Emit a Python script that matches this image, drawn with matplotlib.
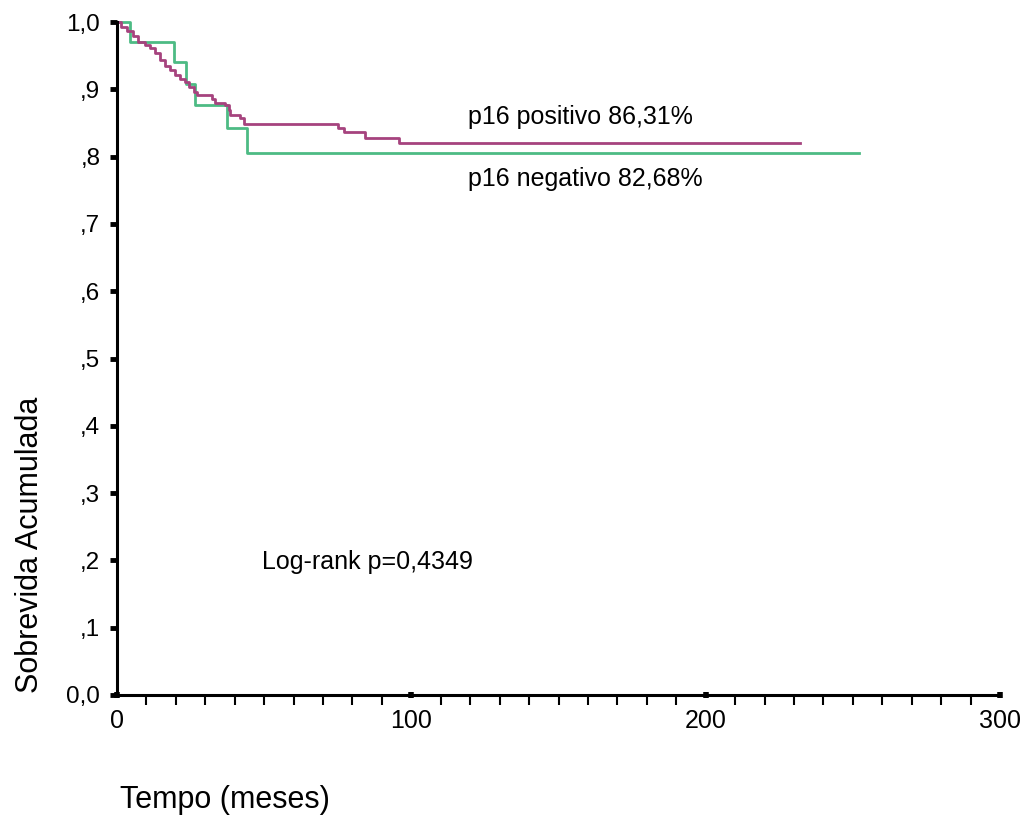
import matplotlib
matplotlib.use("Agg")
import matplotlib.pyplot as plt
import numpy as np

plt.rcParams['font.family'] = ['Liberation Sans', 'DejaVu Sans']

# Kaplan-Meier steps
pos_t = [0, 1.5, 3.5, 5.5, 7.2, 9.5, 11.2, 12.9, 14.6, 16.3, 18.0, 19.7, 21.4, 23.1,
         24.3, 26.0, 27.1, 32.2, 33.3, 36.7, 37.9, 38.4, 41.8, 43.0, 75.2, 77.0,
         84.4, 95.7, 232.2]
pos_s = [1.0, 0.993, 0.986, 0.979, 0.971, 0.966, 0.961, 0.954, 0.944, 0.934, 0.929,
         0.921, 0.916, 0.911, 0.904, 0.896, 0.891, 0.885, 0.880, 0.877, 0.869, 0.862,
         0.857, 0.849, 0.842, 0.836, 0.828, 0.820, 0.820]

neg_t = [0, 4.4, 19.4, 23.5, 26.5, 37.3, 44.1, 252.0]
neg_s = [1.0, 0.971, 0.940, 0.908, 0.877, 0.842, 0.806, 0.806]

yticks = np.round(np.arange(0, 1.01, 0.1), 1)
ylabels = ['0,0', ',1', ',2', ',3', ',4', ',5', ',6', ',7', ',8', ',9', '1,0']
xticks = [0, 100, 200, 300]

fig = plt.figure(figsize=(10.24, 8.16), dpi=100)
ax = fig.add_axes([117/1024, 121/816, 883/1024, 673/816])

ax.step(neg_t, neg_s, where='post', color='#4dbb84', lw=2.0, clip_on=False)
ax.step(pos_t, pos_s, where='post', color='#a6437e', lw=2.0, clip_on=False)

ax.set_xlim(0, 300)
ax.set_ylim(0, 1)
for s in ['top', 'right']:
    ax.spines[s].set_visible(False)
for s in ['left', 'bottom']:
    ax.spines[s].set_linewidth(2.2)
    ax.spines[s].set_color('black')

ax.set_yticks(yticks)
ax.set_yticklabels(ylabels, fontsize=17.5)
ax.tick_params(axis='y', direction='out', length=5, width=3.5, pad=7)
ax.set_xticks(xticks)
ax.set_xticklabels([str(v) for v in xticks], fontsize=18)
ax.set_xticks(np.arange(10, 300, 10), minor=True)
ax.tick_params(axis='x', which='major', direction='inout', length=4, width=4, pad=8)
ax.tick_params(axis='x', which='minor', direction='out', length=7, width=1.5)

ax.text(119.4, 0.859, 'p16 positivo 86,31%', fontsize=18, va='center', ha='left')
ax.text(119.4, 0.766, 'p16 negativo 82,68%', fontsize=18, va='center', ha='left')
ax.text(49.3, 0.198, 'Log-rank p=0,4349', fontsize=18, va='center', ha='left')

fig.text(120/1024, 1 - 800/816, 'Tempo (meses)', fontsize=22, ha='left', va='center')
fig.text(30/1024, 1 - 545/816, 'Sobrevida Acumulada', fontsize=22, rotation=90,
         ha='center', va='center')

fig.savefig('out.png', dpi=100)
